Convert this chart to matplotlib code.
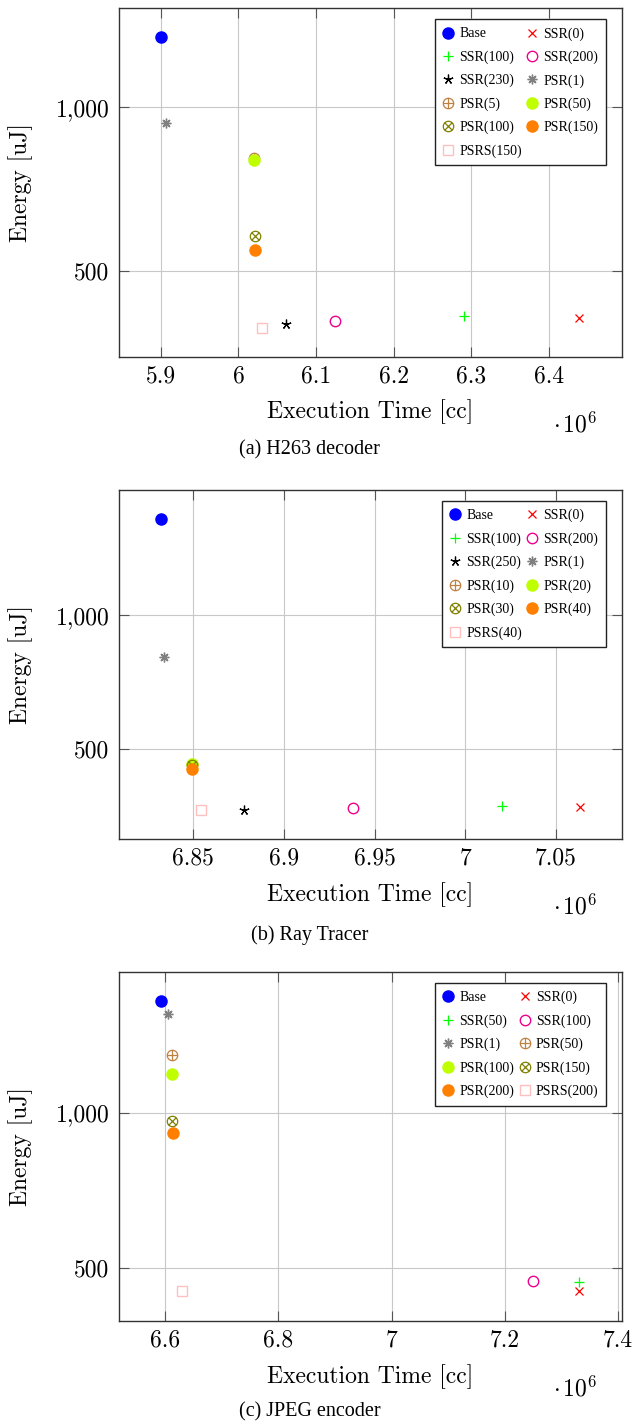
import matplotlib
matplotlib.use('Agg')
import matplotlib.pyplot as plt
from matplotlib.path import Path
from matplotlib.ticker import FixedLocator, FixedFormatter, NullLocator

plt.rcParams['font.family'] = ['cmr10']
plt.rcParams['mathtext.fontset'] = 'cm'
plt.rcParams['axes.unicode_minus'] = False

# execution time in 1e6 cc, energy in uJ
labels_a = ['Base', 'SSR(0)', 'SSR(100)', 'SSR(200)', 'SSR(230)', 'PSR(1)',
            'PSR(5)', 'PSR(50)', 'PSR(100)', 'PSR(150)', 'PSRS(150)']
time_a = [5.900, 6.439, 6.291, 6.1245, 6.061, 5.907, 6.020, 6.020, 6.021, 6.021, 6.030]
energy_a = [1345, 410, 413, 404, 400, 937, 806, 801, 580, 547, 393]
kind_a = ['base', 'ssr0', 'ssr1', 'ssr2', 'ssr3', 'psr1', 'psr2', 'psr3', 'psr4', 'psr5', 'psrs']

labels_b = ['Base', 'SSR(0)', 'SSR(100)', 'SSR(200)', 'SSR(250)', 'PSR(1)',
            'PSR(10)', 'PSR(20)', 'PSR(30)', 'PSR(40)', 'PSRS(40)']
time_b = [6.832, 7.063, 7.020, 6.938, 6.878, 6.834, 6.849, 6.849, 6.849, 6.849, 6.854]
energy_b = [1648, 369, 372, 368, 364, 804, 462, 462, 460, 451, 364]
kind_b = ['base', 'ssr0', 'ssr1', 'ssr2', 'ssr3', 'psr1', 'psr2', 'psr3', 'psr4', 'psr5', 'psrs']

labels_c = ['Base', 'SSR(0)', 'SSR(50)', 'SSR(100)', 'PSR(1)', 'PSR(50)',
            'PSR(100)', 'PSR(150)', 'PSR(200)', 'PSRS(200)']
time_c = [6.592, 7.332, 7.332, 7.251, 6.604, 6.611, 6.612, 6.612, 6.614, 6.629]
energy_c = [1645, 452, 469, 473, 1554, 1291, 1188, 965, 913, 451]
kind_c = ['base', 'ssr0', 'ssr1', 'ssr2', 'psr1', 'psr2', 'psr3', 'psr4', 'psr5', 'psrs']

xticks_a = [5.9, 6.0, 6.1, 6.2, 6.3, 6.4]
xticks_b = [6.85, 6.9, 6.95, 7.0, 7.05]
xticks_c = [6.6, 6.8, 7.0, 7.2, 7.4]
yticks = [500, 1000]
ytick_labels = ['500', '1,000']
captions = ['(a) H263 decoder', '(b) Ray Tracer', '(c) JPEG encoder']

# marker paths for oplus / otimes
circ = Path.unit_circle()
c = 0.7071
plus = Path([(-1, 0), (1, 0), (0, -1), (0, 1)],
            [Path.MOVETO, Path.LINETO, Path.MOVETO, Path.LINETO])
cross = Path([(-c, -c), (c, c), (-c, c), (c, -c)],
             [Path.MOVETO, Path.LINETO, Path.MOVETO, Path.LINETO])
oplus = Path.make_compound_path(circ, plus)
otimes = Path.make_compound_path(circ, cross)

styles = {
    'base': dict(marker='o', color='#0000ff', ms=8),
    'ssr0': dict(marker='x', color='#ff0000', ms=5.5, mew=0.9),
    'ssr1': dict(marker='+', color='#00ff00', ms=7, mew=0.9),
    'ssr2': dict(marker='o', color='#ec008c', ms=7.5, mfc='none', mew=1.0),
    'ssr3': dict(marker=(5, 2, 0), color='#000000', ms=7, mew=0.9),
    'psr1': dict(marker=(8, 2, 0), color='#808080', ms=7, mew=1.0),
    'psr2': dict(marker=oplus, color='#bf8040', ms=7.5, mfc='none', mew=0.9),
    'psr3': dict(marker='o', color='#bfff00', ms=8),
    'psr4': dict(marker=otimes, color='#808000', ms=7.5, mfc='none', mew=0.9),
    'psr5': dict(marker='o', color='#ff8000', ms=8),
    'psrs': dict(marker='s', color='#ffbfbf', ms=7, mfc='none', mew=1.0),
}

fig = plt.figure(figsize=(6.36, 14.25), dpi=100)
boxes = [[0.1871, 0.7497, 0.7909, 0.2445],
         [0.1871, 0.4112, 0.7909, 0.2449],
         [0.1871, 0.0730, 0.7909, 0.2449]]
panels = [(labels_a, time_a, energy_a, kind_a, xticks_a, (5.846, 6.4945), (348, 1521)),
          (labels_b, time_b, energy_b, kind_b, xticks_b, (6.809, 7.0864), (312.6, 1918)),
          (labels_c, time_c, energy_c, kind_c, xticks_c, (6.518, 7.4076), (395, 1872))]
cap_y = [0.6842, 0.3439, 0.0091]

for i in range(3):
    labels, xs, ys, kinds, xt, xl, yl = panels[i]
    ax = fig.add_axes(boxes[i])
    handles = []
    for lab, x, y, k in zip(labels, xs, ys, kinds):
        h, = ax.plot([x], [y], linestyle='none', label=lab, **styles[k])
        handles.append(h)
    ax.set_yscale('log')
    ax.set_xlim(*xl)
    ax.set_ylim(*yl)
    ax.xaxis.set_major_locator(FixedLocator(xt))
    ax.xaxis.set_major_formatter(FixedFormatter(['%g' % v for v in xt]))
    ax.yaxis.set_major_locator(FixedLocator(yticks))
    ax.yaxis.set_major_formatter(FixedFormatter(ytick_labels))
    ax.yaxis.set_minor_locator(NullLocator())
    ax.xaxis.set_minor_locator(NullLocator())
    ax.grid(True, color='#c8c8c8', linewidth=0.8)
    ax.set_axisbelow(True)
    ax.tick_params(direction='in', top=True, right=True, length=7, width=0.8,
                   color='#555555', labelsize=17)
    ax.tick_params(axis='x', pad=6)
    ax.tick_params(axis='y', pad=7)
    for s in ax.spines.values():
        s.set_linewidth(1.0)
        s.set_color('#333333')
    ax.set_xlabel('Execution Time [cc]', fontsize=17)
    ax.set_ylabel('Energy [uJ]', fontsize=17)
    ax.xaxis.set_label_coords(0.5, -0.123)
    ax.yaxis.set_label_coords(-0.171, 0.5)
    ax.text(0.906, -0.195, r'$\cdot\,10^{6}$', transform=ax.transAxes,
            ha='center', va='center', fontsize=17)

    order = handles[0::2] + handles[1::2]
    leg = ax.legend(handles=order, labels=[h.get_label() for h in order], ncol=2,
                    loc='upper right', bbox_to_anchor=(0.968, 0.968),
                    borderaxespad=0,
                    prop={'family': 'Liberation Serif', 'size': 10},
                    numpoints=1, handlelength=0.8, handletextpad=0.4,
                    columnspacing=0.35, labelspacing=0.72, borderpad=0.55,
                    fancybox=False, framealpha=1, edgecolor='#222222')
    leg.get_frame().set_linewidth(1.0)

    fig.text(0.487, cap_y[i], captions[i], ha='center', va='center',
             family='Liberation Serif', fontsize=14.5)

fig.savefig('out.png', dpi=100)
